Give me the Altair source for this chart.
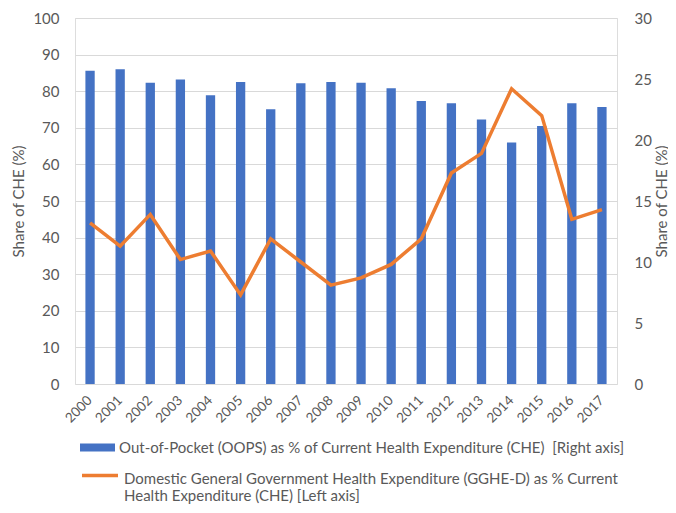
import altair as alt
import pandas as pd

years = [str(y) for y in range(2000, 2018)]
oops = [85.6, 86.0, 82.3, 83.2, 78.9, 82.5, 75.1, 82.2, 82.5, 82.3,
        80.8, 77.3, 76.7, 72.3, 66.0, 70.5, 76.7, 75.7]
gghe = [13.2, 11.3, 13.9, 10.2, 10.9, 7.3, 11.9, 10.0, 8.1, 8.7,
        9.8, 11.9, 17.3, 18.9, 24.2, 22.0, 13.5, 14.3]

bar_label = "Out-of-Pocket (OOPS) as % of Current Health Expenditure (CHE)\u00a0 [Right axis]"
line_label = "Domestic General Government Health Expenditure (GGHE-D) as % Current|Health Expenditure (CHE) [Left axis]"

df = pd.DataFrame({"year": years, "oops": oops, "gghe": gghe,
                   "s1": bar_label, "s2": line_label})

FONT = "Lato"
GREY = "#595959"
GRID = "#d9d9d9"

x = alt.X("year:O", title=None,
          scale=alt.Scale(paddingInner=0, paddingOuter=0),
          axis=alt.Axis(labelAngle=-45, labelAlign="right", labelBaseline="middle",
                        labelPadding=14, ticks=False, domain=False,
                        labelFontSize=13.5, labelColor=GREY, labelFont=FONT))

bars = alt.Chart(df).mark_bar(size=9.3).encode(
    x=x,
    y=alt.Y("oops:Q", title="Share of CHE (%)",
            scale=alt.Scale(domain=[0, 100], nice=False),
            axis=alt.Axis(values=list(range(0, 101, 10)), ticks=False, domain=False,
                          grid=True, gridColor=GRID, gridWidth=1,
                          labelPadding=16, labelFontSize=15, labelColor=GREY, labelFont=FONT,
                          titleFontSize=15, titleColor=GREY, titleFont=FONT,
                          titleFontWeight="normal", titleX=-57, titleY=183,
                          titleBaseline="middle", titleAngle=270)),
    fill=alt.Fill("s1:N", title=None,
                  scale=alt.Scale(domain=[bar_label], range=["#4472C4"]),
                  legend=alt.Legend(orient="none", legendX=5, legendY=412,
                                    symbolType="M-1,-0.23H1V0.23H-1Z", symbolSize=1225,
                                    symbolStrokeWidth=0, labelLimit=0, padding=0,
                                    labelFontSize=15, labelColor=GREY, labelFont=FONT,
                                    labelOffset=4)),
)

line = alt.Chart(df).mark_line(strokeWidth=3.5).encode(
    x=x,
    y=alt.Y("gghe:Q", title="Share of CHE (%)",
            scale=alt.Scale(domain=[0, 30], nice=False),
            axis=alt.Axis(orient="right", values=list(range(0, 31, 5)), ticks=False,
                          domain=False, grid=False,
                          labelPadding=17, labelFontSize=15, labelColor=GREY, labelFont=FONT,
                          titleFontSize=15, titleColor=GREY, titleFont=FONT,
                          titleFontWeight="normal", titleX=44, titleY=183,
                          titleBaseline="middle", titleAngle=270)),
    stroke=alt.Stroke("s2:N", title=None,
                      scale=alt.Scale(domain=[line_label], range=["#ED7D31"]),
                      legend=alt.Legend(orient="none", legendX=5, legendY=434,
                                        symbolType="M-1,0.2H1", symbolSize=1296,
                                        symbolStrokeWidth=3.5, labelLimit=0, padding=0,
                                        labelFontSize=15, labelColor=GREY, labelFont=FONT,
                                        labelOffset=4, labelBaseline="top",
                                        labelExpr="split(datum.label, '|')")),
)

chart = alt.layer(bars, line).resolve_scale(y="independent").properties(
    width=542, height=366,
    autosize=alt.AutoSizeParams(type="none"),
    padding={"left": 67, "top": 10, "right": 51, "bottom": 121},
).configure_view(stroke=None).configure(font=FONT)

chart.save("out.html", embed_options={"renderer": "svg", "actions": False})
